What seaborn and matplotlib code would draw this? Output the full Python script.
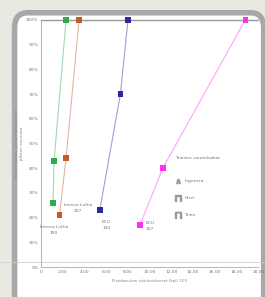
import numpy as np
import pandas as pd
import matplotlib.pyplot as plt
import seaborn as sns
from matplotlib.patches import FancyBboxPatch
from matplotlib.lines import Line2D

# ---- data ----
series = ['Imerco Luftia 190', 'Imerco Luftia 207', 'ECU 190', 'ECU 207']
x_green = [1.1, 1.2, 2.3]
y_green = [26, 43, 100]
x_orange = [1.7, 2.3, 3.5]
y_orange = [21, 44, 100]
x_blue = [5.4, 7.3, 8.0]
y_blue = [23, 70, 100]
x_magenta = [9.1, 11.2, 18.8]
y_magenta = [17, 40, 100]
colors = ['#2eaa4a', '#c4582e', '#2a2a9a', '#ff30f0']
xticks = [0, 2, 4, 6, 8, 10, 12, 14, 16, 18, 20]
yticks = [0, 10, 20, 30, 40, 50, 60, 70, 80, 90, 100]
legend_items = ['Ingenera', 'Hirvi', 'Taimi']

df = pd.DataFrame({
    'series': np.repeat(series, 3),
    'x': x_green + x_orange + x_blue + x_magenta,
    'y': y_green + y_orange + y_blue + y_magenta,
})

sns.set_style('white')
plt.rcParams['font.family'] = ['DejaVu Sans']

fig = plt.figure(figsize=(2.65, 2.97), dpi=100)
fig.patch.set_facecolor('#e9e9e2')

# rounded frame behind the axes
frame = FancyBboxPatch((0.055, -0.05), 0.94, 1.007, boxstyle='round,pad=0,rounding_size=0.05',
                       transform=fig.transFigure, facecolor='white', edgecolor='#a8a8a8',
                       linewidth=4, zorder=-5)
fig.patches.append(frame)
fig.add_artist(Line2D([0, 1], [0.118, 0.118], color='#d0d0d0', lw=0.6,
                      transform=fig.transFigure, zorder=-4))

ax = fig.add_axes([0.155, 0.101, 0.82, 0.832])
ax.set_zorder(3)
ax.set_facecolor('none')
pal = dict(zip(series, colors))
sns.lineplot(data=df, x='x', y='y', hue='series', palette=pal, sort=False,
             linewidth=0.8, alpha=0.45, legend=False, ax=ax)
sns.scatterplot(data=df, x='x', y='y', hue='series', palette=pal, marker='s',
                s=16, linewidth=0, legend=False, ax=ax, clip_on=False, zorder=5)

ax.set_xlim(0, 20)
ax.set_ylim(0, 100)
ax.set_xticks(xticks)
ax.set_xticklabels(['0'] + [f'{v:.2f}' for v in xticks[1:]])
ax.set_yticks(yticks)
ax.set_yticklabels([f'{v}%' for v in yticks])
ax.tick_params(labelsize=3.2, colors='#777777', length=0, pad=2)
ax.spines['right'].set_visible(False)
for s in ['left', 'bottom']:
    ax.spines[s].set_color('#bbbbbb')
    ax.spines[s].set_linewidth(0.8)
ax.spines['top'].set_color('#999999')
ax.spines['top'].set_linewidth(1.0)
ax.set_xlabel('Pistokasvien siistimiskerrat (kpl) 100', fontsize=3, color='#888888', labelpad=4)
ax.set_ylabel('Taimien osuus, joissa kasvatuksen\njälkeen vaurioita', fontsize=3,
              color='#888888', labelpad=1.5)

# point labels
lab = dict(fontsize=3.2, color='#777777', ha='center', va='center', linespacing=1.6)
ax.text(1.2, 15, 'Imerco Luftia\n190', **lab)
ax.text(3.4, 24, 'Imerco Luftia\n207', **lab)
ax.text(6.0, 17, 'ECU\n190', **lab)
ax.text(10.0, 16.5, 'ECU\n207', **lab)

# legend
ax.text(12.3, 44, 'Taimien vaurioluokat', fontsize=3.2, color='#777777', va='center')
for i, name in enumerate(legend_items):
    yy = 35 - i * 7
    ax.plot([12.6], [yy], marker='$\u2293$' if i else '$\u2227$', ms=3 + i, color='#999999')
    ax.text(13.2, yy, name, fontsize=3.2, color='#777777', va='center')

fig.savefig('out.png', dpi=100)
